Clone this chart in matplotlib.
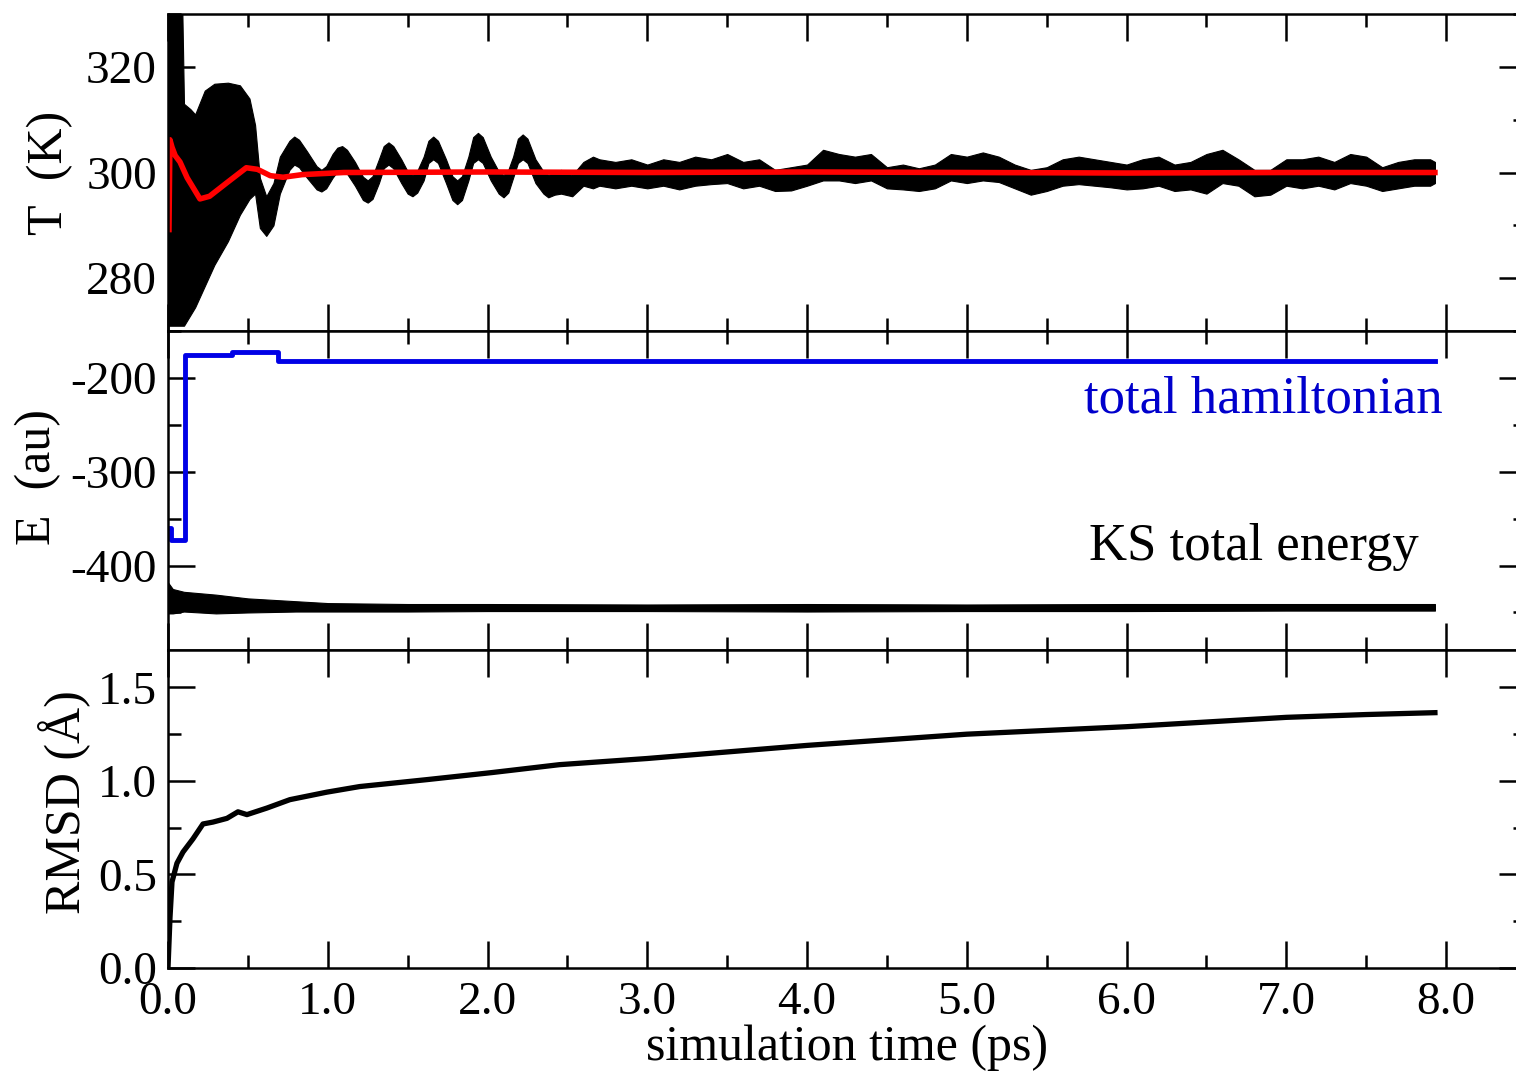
import matplotlib
matplotlib.use("Agg")
import matplotlib.pyplot as plt
from matplotlib.ticker import MultipleLocator, FormatStrFormatter

plt.rcParams["font.family"] = ["Liberation Serif", "DejaVu Serif"]
plt.rcParams["axes.unicode_minus"] = False

# --- temperature (K): black trace drawn as its min/max envelope, red = running average
t_band = [0.000, 0.090, 0.100, 0.140, 0.170, 0.230, 0.290, 0.375, 0.450, 0.510,
          0.545, 0.575, 0.615, 0.660, 0.700,
          0.760, 0.790, 0.820, 0.870, 0.930, 0.960, 0.990, 1.030, 1.060, 1.090,
          1.120, 1.170, 1.220, 1.250, 1.280, 1.320, 1.350, 1.380, 1.410, 1.460,
          1.500, 1.530, 1.560, 1.600, 1.630, 1.660, 1.690, 1.740, 1.780, 1.810,
          1.840, 1.880, 1.910, 1.940, 1.970, 2.020, 2.070, 2.100, 2.130, 2.160,
          2.190, 2.220, 2.250, 2.300, 2.350, 2.380, 2.420, 2.460, 2.530, 2.600,
          2.660,
          2.7, 2.8, 2.9, 3.0, 3.1, 3.2, 3.3, 3.4, 3.5, 3.6, 3.7, 3.8, 3.9, 4.0,
          4.1, 4.2, 4.3, 4.4, 4.5, 4.6, 4.7, 4.8, 4.9, 5.0, 5.1, 5.2, 5.3, 5.4,
          5.5, 5.6, 5.7, 5.8, 5.9, 6.0, 6.1, 6.2, 6.3, 6.4, 6.5, 6.6, 6.7, 6.8,
          6.9, 7.0, 7.1, 7.2, 7.3, 7.4, 7.5, 7.6, 7.7, 7.8, 7.9, 7.93]
T_hi = [330, 330, 313, 312, 311, 315.5, 316.8, 317, 316.5, 314,
        309, 299, 295.5, 298, 303,
        306, 306.8, 306.2, 304, 301.2, 300.5, 301.2, 303.5, 304.7, 305,
        304.3, 302, 299.2, 298.5, 299.3, 302.5, 305, 305.7, 305, 302.5,
        300.2, 299.5, 300.3, 303, 306, 306.8, 306, 302.5, 299.3, 298.5,
        299.3, 303, 306.7, 307.5, 306.7, 303, 300.2, 299.5, 300.5, 303,
        306.4, 307.2, 306.4, 302.5, 300.2, 299.5, 300, 300.5, 299.5, 302,
        303,
        302.5, 302.0, 302.5, 301.5, 302.5, 302.0, 303.0, 302.5, 303.5, 302.0,
        302.5, 300.5, 301.0, 301.5, 304.3, 303.5, 303.0, 303.5, 301.0, 301.5,
        300.8, 301.5, 303.5, 303.0, 303.8, 303.0, 301.5, 300.5, 301.0, 302.5,
        303.0, 302.5, 302.0, 301.5, 302.5, 303.0, 301.5, 302.0, 303.5, 304.3,
        302.5, 300.5, 300.5, 302.5, 302.5, 303.0, 302.0, 303.5, 303.0, 301.0,
        302.0, 302.5, 302.5, 302.0]
T_lo = [271, 271, 271, 273, 274.5, 278.5, 282.5, 287, 292, 295,
        296, 289.5, 288, 290, 296,
        300.5, 301.5, 301, 299, 296.8, 296.4, 297, 299, 300.2, 300.5,
        299.8, 297.5, 294.8, 294.3, 295, 298, 300.8, 301.5, 300.8, 298,
        296, 295.5, 296.2, 298.5, 301.8, 302.5, 301.8, 298, 294.8, 294,
        294.8, 298.5, 301.8, 302.5, 301.8, 298.5, 296, 295.3, 296.2, 299,
        301.8, 302.5, 301.8, 298, 296, 295.3, 295.8, 296, 295.5, 297.5,
        297,
        297.5, 297.0, 297.5, 297.0, 297.5, 296.8, 297.5, 297.8, 298.0, 297.0,
        297.5, 296.5, 296.6, 297.5, 298.5, 298.5, 298.0, 298.5, 297.0, 296.8,
        296.5, 297.0, 298.5, 298.0, 298.5, 298.2, 297.0, 295.8, 296.5, 297.5,
        297.8, 297.5, 297.2, 296.8, 297.0, 297.5, 296.5, 296.8, 296.0, 298.0,
        297.5, 295.5, 295.8, 297.5, 297.0, 297.5, 296.8, 298.0, 297.5, 296.5,
        297.0, 297.5, 297.5, 298.0]

t_avg = [0.006, 0.012, 0.025, 0.045, 0.075, 0.120, 0.200, 0.260, 0.370, 0.490,
         0.560, 0.640, 0.720, 0.840, 1.1, 2.0, 3.0, 4.0, 5.0, 6.0, 7.0, 7.93]
T_avg = [289.2, 306.2, 304.8, 303.2, 302.0, 299.0, 295.0, 295.5, 298.1, 300.9,
         300.6, 299.4, 299.1, 299.6, 300.0, 300.1, 300.0, 300.1, 300.0, 299.9,
         300.0, 300.0]

# --- energies (au)
t_ham = [0.0, 0.02, 0.105, 0.40, 0.69, 7.93]
E_ham = [-360, -373, -175.5, -172.5, -181.5, -181.5]

t_ks = [0.0, 0.03, 0.10, 0.30, 0.50, 0.80, 1.0, 1.5, 2.0, 3.0, 4.0, 5.0, 6.0, 7.0, 7.93]
E_ks_hi = [-418, -425, -428, -431, -435, -438, -440, -441, -441, -441.5, -441, -441.5,
           -441, -441, -441]
E_ks_lo = [-451, -451, -449, -451, -450, -449, -449, -449, -448.5, -448.5, -449,
           -448.5, -448.5, -448, -448]

# --- RMSD (Angstrom)
t_rmsd = [0.0, 0.0125, 0.025, 0.056, 0.094, 0.156, 0.219, 0.281, 0.369, 0.438,
          0.494, 0.619, 0.763, 0.994, 1.20, 1.62, 2.03, 2.45, 3.0, 3.5, 4.0,
          4.5, 5.0, 5.5, 6.0, 6.5, 7.0, 7.5, 7.93]
rmsd = [0.0, 0.27, 0.46, 0.56, 0.62, 0.69, 0.77, 0.78, 0.80, 0.835,
        0.82, 0.855, 0.90, 0.94, 0.97, 1.007, 1.045, 1.087, 1.12, 1.155, 1.19,
        1.22, 1.25, 1.27, 1.29, 1.315, 1.34, 1.355, 1.365]

W, H = 1516, 1073
fig = plt.figure(figsize=(W / 100, H / 100), dpi=100)
left = 168 / W
width = (1526 - 168) / W
ax_t = fig.add_axes([left, 1 - 331 / H, width, 317 / H])
ax_e = fig.add_axes([left, 1 - 650 / H, width, 319 / H])
ax_r = fig.add_axes([left, 1 - 968 / H, width, 318 / H])


def style(ax):
    ax.set_xlim(0, 8.5)
    ax.xaxis.set_major_locator(MultipleLocator(1.0))
    ax.xaxis.set_minor_locator(MultipleLocator(0.5))
    ax.tick_params(which="both", direction="in", top=True, right=True,
                   width=1.8, labelsize=34)
    ax.tick_params(which="major", length=19.5)
    ax.tick_params(which="minor", length=9.5)
    ax.tick_params(axis="y", pad=8)
    for s in ax.spines.values():
        s.set_linewidth(1.8)


for ax in (ax_t, ax_e, ax_r):
    style(ax)

# temperature panel
ax_t.fill_between(t_band, T_lo, T_hi, color="black", lw=0.8)
ax_t.plot(t_avg, T_avg, color="#ff0000", lw=4.0)
ax_t.set_ylim(270, 330)
ax_t.yaxis.set_major_locator(MultipleLocator(20))
ax_t.yaxis.set_minor_locator(MultipleLocator(10))
ax_t.yaxis.set_major_formatter(FormatStrFormatter("%d"))
ax_t.tick_params(labelbottom=False)
ax_t.set_ylabel("T  (K)", fontsize=36, va="center")
ax_t.yaxis.set_label_coords(-0.087, 0.5)

# energy panel
ax_e.step(t_ham, E_ham, where="post", color="#0000e6", lw=3.5)
ax_e.fill_between(t_ks, E_ks_lo, E_ks_hi, color="black", lw=0.8)
ax_e.set_ylim(-490, -150)
ax_e.yaxis.set_major_locator(MultipleLocator(100))
ax_e.yaxis.set_minor_locator(MultipleLocator(50))
ax_e.yaxis.set_major_formatter(FormatStrFormatter("%d"))
ax_e.tick_params(labelbottom=False)
ax_e.set_ylabel("E  (au)", fontsize=36, va="center")
ax_e.yaxis.set_label_coords(-0.096, 0.542)
ax_e.text(7.98, -223, "total hamiltonian", color="#0000cc", fontsize=38,
          ha="right", va="center")
ax_e.text(7.83, -380, "KS total energy", color="black", fontsize=38,
          ha="right", va="center")

# RMSD panel
ax_r.plot(t_rmsd, rmsd, color="black", lw=3.8)
ax_r.set_ylim(0, 1.7)
ax_r.yaxis.set_major_locator(MultipleLocator(0.5))
ax_r.yaxis.set_minor_locator(MultipleLocator(0.25))
ax_r.yaxis.set_major_formatter(FormatStrFormatter("%.1f"))
ax_r.xaxis.set_major_formatter(FormatStrFormatter("%.1f"))
ax_r.tick_params(axis="x", pad=10)
ax_r.set_ylabel("RMSD (Å)", fontsize=36, va="center")
ax_r.yaxis.set_label_coords(-0.076, 0.522)
ax_r.set_xlabel("simulation time (ps)", fontsize=36, va="center")
ax_r.xaxis.set_label_coords(0.5, -0.25)

fig.savefig("out.png", dpi=100)
